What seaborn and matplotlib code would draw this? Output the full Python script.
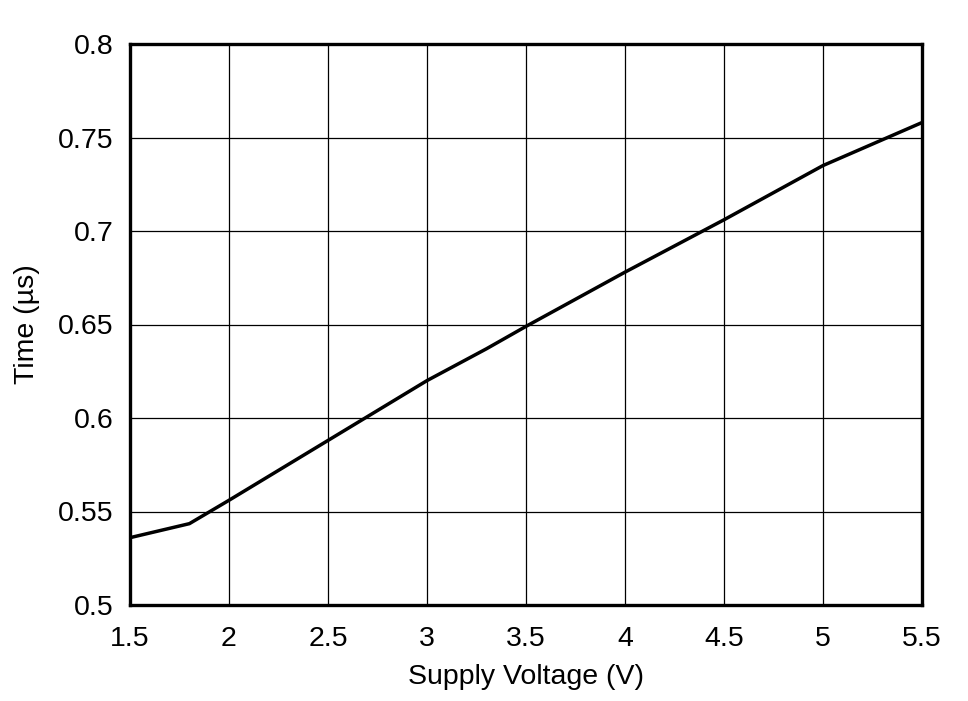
import matplotlib
matplotlib.use("Agg")
import matplotlib.pyplot as plt
import seaborn as sns
import pandas as pd

voltage = [1.5, 1.8, 2.0, 2.5, 3.0, 3.3, 3.5, 4.0, 4.5, 5.0, 5.5]
time_us = [0.536, 0.5435, 0.556, 0.588, 0.620, 0.637, 0.649, 0.678, 0.706, 0.735, 0.758]
x_ticks = [1.5, 2, 2.5, 3, 3.5, 4, 4.5, 5, 5.5]
x_tick_labels = ["1.5", "2", "2.5", "3", "3.5", "4", "4.5", "5", "5.5"]
y_ticks = [0.5, 0.55, 0.6, 0.65, 0.7, 0.75, 0.8]
y_tick_labels = ["0.5", "0.55", "0.6", "0.65", "0.7", "0.75", "0.8"]

sns.set_style("white")
plt.rcParams["font.family"] = ["Liberation Sans", "DejaVu Sans"]

df = pd.DataFrame({"Supply Voltage (V)": voltage, "Time": time_us})

fig = plt.figure(figsize=(9.68, 7.01), dpi=100)
ax = fig.add_axes([130 / 968, 96 / 701, 792 / 968, 561 / 701])
sns.lineplot(data=df, x="Supply Voltage (V)", y="Time", ax=ax, color="black", linewidth=2.5)

ax.set_xlim(1.5, 5.5)
ax.set_ylim(0.5, 0.8)
ax.set_xticks(x_ticks)
ax.set_xticklabels(x_tick_labels)
ax.set_yticks(y_ticks)
ax.set_yticklabels(y_tick_labels)
ax.grid(True, color="black", linewidth=0.9)
ax.tick_params(axis="x", length=0, labelsize=20.5, pad=15, colors="black")
ax.tick_params(axis="y", length=0, labelsize=20.5, pad=12, colors="black")
for s in ax.spines.values():
    s.set_visible(True)
    s.set_color("black")
    s.set_linewidth(2.4)
ax.set_xlabel("Supply Voltage (V)", fontsize=20.5, labelpad=9, color="black")
ax.set_ylabel("Time (µs)", fontsize=20.5, labelpad=13, color="black")

fig.savefig("out.png", dpi=100, facecolor="white")
